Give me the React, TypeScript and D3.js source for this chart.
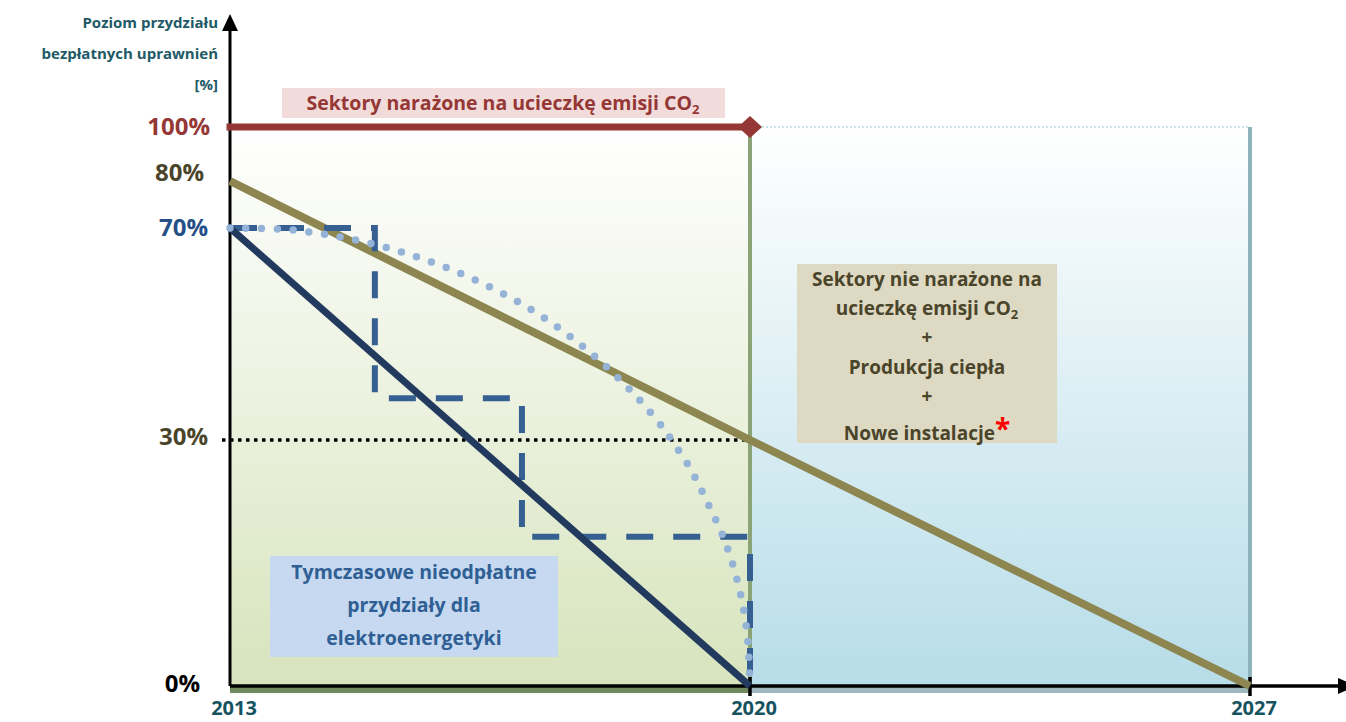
import * as d3 from "d3";

// allocation schedule, years on x, share of free allowances on y
const years = [2013, 2020, 2027];
const pctTicks = [0, 30, 70, 80, 100];

const exposedSeries: [number, number][] = [
  [2013, 100],
  [2020, 100],
];
const nonExposedSeries: [number, number][] = [
  [2013, 80],
  [2020, 30],
  [2027, 0],
];
const powerLinear: [number, number][] = [
  [2013, 70],
  [2020, 0],
];
const powerSteps: [number, number][] = [
  [2013, 70],
  [2014.95, 70],
  [2014.95, 37.9],
  [2016.93, 37.9],
  [2016.93, 18.2],
  [2020, 18.2],
  [2020, 0],
];
const powerCurve: [number, number][] = [
  [2013, 70],
  [2013.85, 69.6],
  [2014.7, 67.7],
  [2015.53, 64.5],
  [2016.33, 60],
  [2017.09, 54.3],
  [2017.79, 47.2],
  [2018.41, 39.1],
  [2018.84, 32.1],
  [2018.96, 29.8],
  [2019.19, 26.6],
  [2019.41, 22.7],
  [2019.66, 17.7],
  [2019.85, 12.1],
  [2019.96, 6.5],
  [2020, 0],
];

const yTitle = ["Poziom przydziału", "bezpłatnych uprawnień", "[%]"];
const exposedLabel = "Sektory narażone na ucieczkę emisji CO";
const rightBoxLines = ["Sektory nie narażone na", "ucieczkę emisji CO", "+", "Produkcja ciepła", "+", "Nowe instalacje"];
const leftBoxLines = ["Tymczasowe nieodpłatne", "przydziały dla", "elektroenergetyki"];

const font = "'Open Sans', Lato, sans-serif";

export default function App() {
  // schematic axis: uneven spacing, so piecewise scales
  const x = d3.scaleLinear().domain([2013, 2020, 2027]).range([230, 750, 1250]);
  const y = d3.scaleLinear().domain([0, 30, 70, 80, 100]).range([686, 440, 228, 181, 127]);
  const line = d3
    .line<[number, number]>()
    .x((d) => x(d[0]))
    .y((d) => y(d[1]));
  const curve = d3
    .line<[number, number]>()
    .x((d) => x(d[0]))
    .y((d) => y(d[1]))
    .curve(d3.curveCatmullRom);

  const tickColor: Record<number, string> = {
    0: "#000000",
    30: "#4a452a",
    70: "#254f86",
    80: "#4a452a",
    100: "#953735",
  };
  const tickShift: Record<number, number> = { 0: -2, 30: -3, 70: 0, 80: -8, 100: 0 };
  const tickRight: Record<number, number> = { 0: 200, 30: 208, 70: 208, 80: 204, 100: 210 };

  const x0 = x(2013);
  const x1 = x(2020);
  const x2 = x(2027);
  const yTop = y(100);
  const yBot = y(0);

  return (
    <svg
      width={1346}
      height={722}
      style={{ position: "absolute", left: 0, top: 0, fontFamily: font }}
    >
      <defs>
        <linearGradient id="gLeft" x1="0" y1="0" x2="0" y2="1">
          <stop offset="0" stopColor="#ffffff" />
          <stop offset="1" stopColor="#d7e4bd" />
        </linearGradient>
        <linearGradient id="gRight" x1="0" y1="0" x2="0" y2="1">
          <stop offset="0" stopColor="#ffffff" />
          <stop offset="1" stopColor="#b7dde8" />
        </linearGradient>
      </defs>

      {/* regions */}
      <rect x={x0} y={yTop} width={x1 - x0} height={yBot - yTop} fill="url(#gLeft)" />
      <rect x={x1} y={yTop} width={x2 - x1} height={yBot - yTop} fill="url(#gRight)" />
      <line x1={x1} x2={x2} y1={yTop} y2={yTop} stroke="#b7dde8" strokeWidth={1.5} strokeDasharray="2 2" />
      <line x1={x2} x2={x2} y1={yTop} y2={yBot} stroke="#8fb4bd" strokeWidth={4} />
      <line x1={x1} x2={x1} y1={yTop} y2={yBot} stroke="#8aa477" strokeWidth={4} />
      <rect x={x0} y={yBot + 1} width={x1 - x0} height={6} fill="#6f8a5e" />
      <rect x={x1} y={yBot + 1} width={x2 - x1} height={6} fill="#9db8bf" />

      {/* axes */}
      <line x1={x0} x2={x0} y1={yBot} y2={28} stroke="#000" strokeWidth={3} />
      <path d={`M${x0 - 8},31 L${x0},14 L${x0 + 8},31 Z`} fill="#000" />
      <line x1={x0} x2={1342} y1={yBot} y2={yBot} stroke="#000" strokeWidth={3.5} />
      <path d={`M1338,${yBot - 8} L1356,${yBot} L1338,${yBot + 8} Z`} fill="#000" />
      {years.slice(1).map((yr) => (
        <line key={yr} x1={x(yr)} x2={x(yr)} y1={yBot - 9} y2={yBot + 10} stroke="#000" strokeWidth={3.5} />
      ))}

      {/* 30% guide */}
      <line x1={x0 - 8} x2={x1} y1={y(30)} y2={y(30)} stroke="#000" strokeWidth={3.5} strokeDasharray="3.5 4.5" />

      {/* series */}
      <path d={line(nonExposedSeries) ?? ""} fill="none" stroke="#8e8650" strokeWidth={8} />
      <path d={line(powerSteps) ?? ""} fill="none" stroke="#366092" strokeWidth={6} strokeDasharray="27 20" />
      <path d={line(powerLinear) ?? ""} fill="none" stroke="#223a5e" strokeWidth={7} />
      <path
        d={curve(powerCurve) ?? ""}
        fill="none"
        stroke="#95b3d7"
        strokeWidth={7.5}
        strokeLinecap="round"
        strokeDasharray="0 15.8"
      />
      <path d={line(exposedSeries) ?? ""} fill="none" stroke="#953735" strokeWidth={7} strokeLinecap="square" />
      <path
        d={`M${x1 - 12},${y(100)} L${x1},${y(100) - 11} L${x1 + 12},${y(100)} L${x1},${y(100) + 11} Z`}
        fill="#953735"
      />

      {/* red label */}
      <rect x={282} y={88} width={443} height={30} fill="#f2dcdb" />
      <text x={503} y={110} textAnchor="middle" fontSize={19.5} fontWeight={700} fill="#953735">
        {exposedLabel}
        <tspan fontSize={13} dy={4}>2</tspan>
      </text>

      {/* right box */}
      <rect x={797} y={264} width={260} height={179} fill="#ddd9c3" />
      {rightBoxLines.map((t, i) => (
        <text
          key={i}
          x={927}
          y={286 + i * 29.2 + (i === 5 ? 8 : 0)}
          textAnchor="middle"
          fontSize={19}
          fontWeight={700}
          fill="#4a452a"
        >
          {t}
          {i === 1 && (
            <tspan fontSize={13} dy={4}>2</tspan>
          )}
          {i === 5 && (
            <tspan fill="#ff0000" fontSize={28} dy={-1}>*</tspan>
          )}
        </text>
      ))}

      {/* left box */}
      <rect x={270} y={556} width={288} height={101} fill="#c6d9f1" />
      {leftBoxLines.map((t, i) => (
        <text
          key={i}
          x={414}
          y={579 + i * 33}
          textAnchor="middle"
          fontSize={19.5}
          fontWeight={700}
          fill="#2f5f93"
        >
          {t}
        </text>
      ))}

      {/* y ticks */}
      {pctTicks.map((p) => (
        <text
          key={p}
          x={tickRight[p]}
          y={y(p) + tickShift[p]}
          dy="0.35em"
          textAnchor="end"
          fontSize={24}
          fontWeight={700}
          fill={tickColor[p]}
        >
          {p}%
        </text>
      ))}

      {/* x ticks */}
      {years.map((yr) => (
        <text
          key={yr}
          x={x(yr) + 4}
          y={715}
          textAnchor="middle"
          fontSize={20}
          fontWeight={700}
          fill="#17535f"
        >
          {yr}
        </text>
      ))}

      {/* y title */}
      {yTitle.map((t, i) => (
        <text
          key={i}
          x={218}
          y={28 + i * 31}
          textAnchor="end"
          fontSize={15}
          fontWeight={700}
          fill="#215a66"
        >
          {t}
        </text>
      ))}
    </svg>
  );
}
